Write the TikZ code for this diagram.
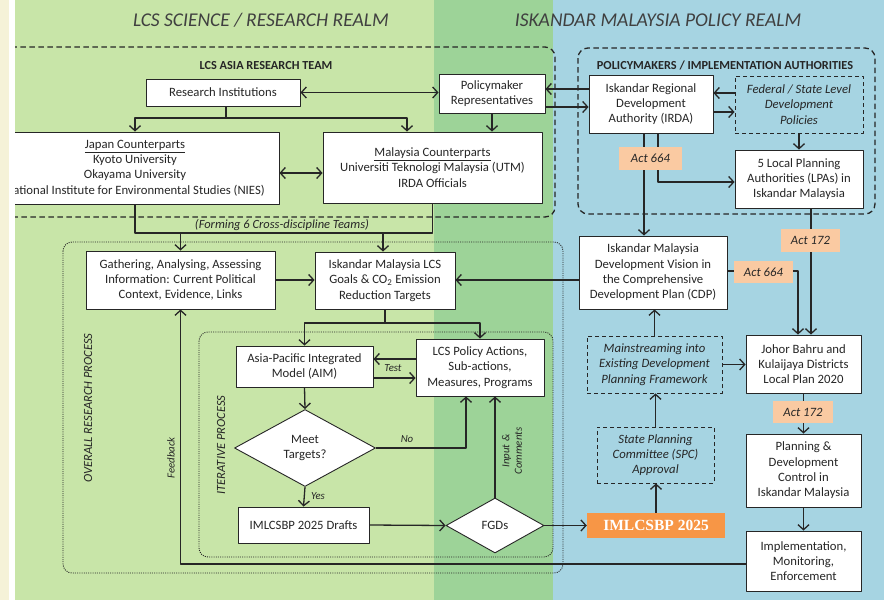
\documentclass[tikz,border=0pt]{standalone}
\usepackage{fontspec}
\setmainfont{Carlito}
\newfontfamily\titleserif{Liberation Serif}
\usetikzlibrary{arrows.meta,shapes.geometric}

\definecolor{cream}{RGB}{245,242,216}
\definecolor{lgreen}{RGB}{200,229,168}
\definecolor{mgreen}{RGB}{157,211,152}
\definecolor{lblue}{RGB}{166,212,226}
\definecolor{peach}{RGB}{250,202,162}
\definecolor{orng}{RGB}{247,150,70}
\definecolor{ink}{RGB}{38,38,38}

\newcommand\bxfont{\fontsize{12.7}{15.3}\selectfont}
\newcommand\tagfont{\fontsize{10.8}{12.5}\selectfont\itshape}

\tikzset{
  box/.style={draw=ink, line width=0.9pt, fill=white, align=center,
    inner sep=0pt, font=\bxfont, text=ink},
  dbox/.style={draw=ink, line width=0.9pt, dash pattern=on 4pt off 3pt,
    align=center, inner sep=0pt, font=\bxfont\itshape, text=ink},
  dia/.style={diamond, draw=ink, line width=0.9pt, fill=white, align=center,
    inner sep=0pt, font=\bxfont, text=ink},
  act/.style={fill=peach, inner sep=0pt, font=\bxfont\itshape, text=ink},
  conn/.style={->, line width=1.3pt, draw=ink},
  line/.style={line width=1.3pt, draw=ink},
  tag/.style={font=\tagfont, text=ink, inner sep=1pt},
  vlbl/.style={rotate=90, font=\fontsize{12.5}{14}\selectfont\itshape, text=ink},
  head/.style={font=\fontsize{12.3}{14}\selectfont\bfseries, text=ink},
  realm/.style={font=\fontsize{19.5}{22}\selectfont\itshape, text=black!75},
  teamframe/.style={line width=1.3pt, draw=ink, dash pattern=on 5.5pt off 3.5pt,
    rounded corners=10pt},
  procframe/.style={line width=0.9pt, draw=ink, dash pattern=on 1pt off 1.2pt,
    rounded corners=9pt}
}

\begin{document}
\begin{tikzpicture}[
    x=1pt,
    y=-1pt,
    line join=round,
    >={Straight Barb[length=5pt,width=11pt]}
  ]
  \useasboundingbox (0,0) rectangle (884,600);
  \fill[cream] (0,0) rectangle (9,600);
  \fill[white] (9,0) rectangle (15,600);

  \begin{scope}
  \clip (15,0) rectangle (884,600);
  % realms
  \fill[lgreen] (15,0) rectangle (434,600);
  \fill[mgreen] (434,0) rectangle (553,600);
  \fill[lblue] (553,0) rectangle (884,600);
  \node[realm] (sciencehd) at (261,20) {LCS SCIENCE / RESEARCH REALM};
  \node[realm] (policyhd) at (658,20) {ISKANDAR MALAYSIA POLICY REALM};

  % frames
  \draw[teamframe] (-12,47) rectangle (555,217);
  \draw[teamframe] (578,48) rectangle (875,214);
  \draw[procframe] (63,242) rectangle (563,573);
  \draw[procframe] (199,332) rectangle (553,557);
  \node[head] (teamhd) at (266,66) {LCS ASIA RESEARCH TEAM};
  \node[head] (authhd) at (725,65) {POLICYMAKERS / IMPLEMENTATION AUTHORITIES};
  \node[vlbl] (overallhd) at (88,408) {OVERALL RESEARCH PROCESS};
  \node[vlbl] (iterhd) at (221,445) {ITERATIVE PROCESS};

  % research team
  \node[box, minimum width=154, minimum height=27] (resinst) at (223,92.5)
    {Research Institutions};
  \node[box, minimum width=106, minimum height=39] (polrep) at (492,93.5)
    {Policymaker\\Representatives};
  \node[box, minimum width=288, minimum height=72] (japan) at (135,168)
    {\underline{Japan Counterparts}\\Kyoto University\\Okayama University\\
     National Institute for Environmental Studies (NIES)};
  \node[box, minimum width=219, minimum height=71] (malaysia) at (432.5,167.5)
    {\underline{Malaysia Counterparts}\\Universiti Teknologi Malaysia (UTM)\\IRDA Officials};

  % authorities
  \node[box, minimum width=124, minimum height=58] (irda) at (651,104)
    {Iskandar Regional\\Development\\Authority (IRDA)};
  \node[dbox, minimum width=128, minimum height=57] (federal) at (799,104.5)
    {Federal / State Level\\Development\\Policies};
  \node[box, minimum width=128, minimum height=58] (lpa) at (799,179)
    {5 Local Planning\\Authorities (LPAs) in\\Iskandar Malaysia};

  % research process
  \node[box, minimum width=189, minimum height=58] (gather) at (180.5,280)
    {Gathering, Analysing, Assessing\\Information: Current Political\\Context, Evidence, Links};
  \node[box, minimum width=140, minimum height=57] (goals) at (385,280.5)
    {Iskandar Malaysia LCS\\Goals \& CO\textsubscript{2} Emission\\Reduction Targets};
  \node[box, minimum width=137, minimum height=41] (aim) at (304.5,366.5)
    {Asia-Pacific Integrated\\Model (AIM)};
  \node[box, minimum width=128, minimum height=57] (polact) at (480,367.5)
    {LCS Policy Actions,\\Sub-actions,\\Measures, Programs};
  \node[dia, minimum width=141, minimum height=77] (meet) at (305,448)
    {Meet\\Targets?};
  \node[box, minimum width=131, minimum height=36] (drafts) at (303.5,525)
    {IMLCSBP 2025 Drafts};
  \node[dia, minimum width=98, minimum height=55] (fgd) at (495,525.5) {FGDs};

  % policy side
  \node[box, minimum width=148, minimum height=73] (cdp) at (653,272.5)
    {Iskandar Malaysia\\Development Vision in\\the Comprehensive\\Development Plan (CDP)};
  \node[dbox, minimum width=135, minimum height=57] (mainstream) at (654.5,364.5)
    {Mainstreaming into\\Existing Development\\Planning Framework};
  \node[dbox, minimum width=117, minimum height=56] (spc) at (655.5,455)
    {State Planning\\Committee (SPC)\\Approval};
  \node[fill=orng, inner sep=0pt, minimum width=138, minimum height=25,
    font=\fontsize{15.5}{17}\titleserif\bfseries, text=white] (imlcsbp) at (656,525.5)
    {IMLCSBP 2025};
  \node[box, minimum width=115, minimum height=58] (johor) at (803.5,364)
    {Johor Bahru and\\Kulaijaya Districts\\Local Plan 2020};
  \node[box, minimum width=115, minimum height=73] (planning) at (803.5,470.5)
    {Planning \&\\Development\\Control in\\Iskandar Malaysia};
  \node[box, minimum width=115, minimum height=60] (implement) at (803.5,561)
    {Implementation,\\Monitoring,\\Enforcement};

  % connectors, team
  \draw[conn, <->] (resinst.east) -- (resinst.east -| polrep.west);
  \draw[line] (resinst.south -| 226,0) -- (226,118);
  \draw[conn] (226,118) -| (japan.north);
  \draw[conn] (226,118) -| (malaysia.north -| 407,0);
  \draw[conn, <->] (japan.east |- 0,173) -- (malaysia.west |- 0,173);
  \draw[conn] (polrep.south) -- (polrep.south |- malaysia.north);
  \draw[conn] (irda.west |- 0,89) -- (polrep.east |- 0,89);
  \draw[conn] (polrep.east |- 0,107) -- (irda.west |- 0,107);
  \draw[conn] (federal.west |- 0,93) -- (irda.east |- 0,93);
  \draw[conn] (irda.east |- 0,112) -- (federal.west |- 0,112);
  \draw[conn] (federal.south) -- (lpa.north);
  \draw[conn] (irda.south -| 644,0) -- (cdp.north -| 644,0);
  \draw[conn] (irda.south -| 658,0) |- (lpa.west |- 0,182);

  % forming teams
  \draw[line] (japan.south) -- (japan.south |- 0,233)
    -- (malaysia.south |- 0,233) -- (malaysia.south);
  \node[tag, font=\fontsize{12.5}{14}\selectfont\itshape] (forming) at (282,225)
    {(Forming 6 Cross-discipline Teams)};
  \draw[conn] (gather.north |- 0,233) -- (gather.north);
  \draw[conn] (383,233) -- (goals.north -| 383,0);

  % research process
  \draw[conn] (gather.east) -- (gather.east -| goals.west);
  \draw[line] (goals.south) -- (goals.south |- 0,323);
  \draw[conn] (goals.south |- 0,323) -| (aim.north);
  \draw[conn] (goals.south |- 0,323) -| (polact.north);
  \draw[conn] (polact.west |- 0,359) -- (aim.east |- 0,359);
  \draw[conn] (aim.east |- 0,378) -- (polact.west |- 0,378);
  \node[tag] (testlbl) at (393,368) {Test};
  \draw[conn] (aim.south) -- (meet.north);
  \draw[conn] (meet.east) -| (polact.south -| 466,0);
  \node[tag] (nolbl) at (407,439) {No};
  \draw[conn] (meet.south) -- (drafts.north);
  \node[tag] (yeslbl) at (318,496) {Yes};
  \draw[conn] (drafts.east) -- (fgd.west);
  \draw[conn] (fgd.north) -- (fgd.north |- polact.south);
  \node[tag, rotate=90, align=center] (inputlbl) at (512,451) {Input \&\\Comments};
  \draw[conn] (fgd.east) -- (imlcsbp.west);

  % policy process
  \draw[conn] (cdp.west |- 0,280) -- (goals.east |- 0,280);
  \draw[conn] (imlcsbp.north) -- (imlcsbp.north |- spc.south);
  \draw[conn] (spc.north) -- (spc.north |- mainstream.south);
  \draw[conn] (mainstream.north) -- (mainstream.north |- cdp.south);
  \draw[conn] (mainstream.east) -- (mainstream.east -| johor.west);
  \draw[conn] (lpa.south -| 811,0) -- (johor.north -| 811,0);
  \draw[conn] (cdp.east |- 0,271) -| (johor.north -| 798,0);
  \draw[conn] (johor.south) -- (planning.north);
  \draw[conn] (planning.south) -- (implement.north);
  \draw[conn] (implement.west |- 0,564) -| (gather.south);
  \node[tag, rotate=90] (fblbl) at (171,458) {Feedback};

  % acts
  \node[act, minimum width=63, minimum height=23] (act1) at (650.5,158.5) {Act 664};
  \node[act, minimum width=59, minimum height=23] (act2) at (810.5,240.5) {Act 172};
  \node[act, minimum width=59, minimum height=22] (act3) at (763.5,272) {Act 664};
  \node[act, minimum width=60, minimum height=22] (act4) at (803,412) {Act 172};
  \end{scope}
\end{tikzpicture}
\end{document}
